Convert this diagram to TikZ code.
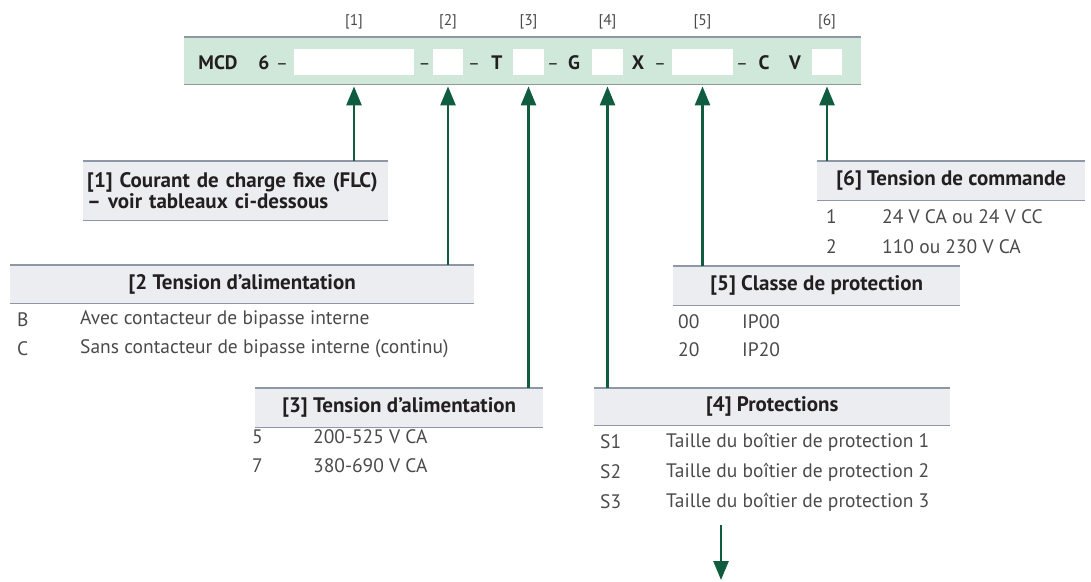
\documentclass[tikz,border=0pt]{standalone}
\usepackage{fontspec}
\setmainfont{PT Sans}
\usetikzlibrary{positioning, arrows.meta}
\definecolor{barfill}{HTML}{CFE8DA}
\definecolor{hdrfill}{HTML}{ECEDF0}
\definecolor{rulegray}{HTML}{8D97A5}
\definecolor{arrgreen}{HTML}{0F5C3E}
\definecolor{txtgray}{HTML}{4A4A4A}
\definecolor{txtdark}{HTML}{231F20}

\tikzset{
  slot/.style={fill=white, minimum height=26pt, inner sep=0pt},
  code/.style={font=\fontsize{19.5}{22}\selectfont\bfseries, text=txtdark, inner sep=0pt, anchor=base},
  sepdash/.style={font=\fontsize{18}{22}\selectfont, text=txtdark, inner sep=0pt, anchor=base},
  idx/.style={font=\fontsize{15.5}{17}\selectfont, text=txtgray, inner sep=0pt},
  hdr/.style={fill=hdrfill, inner sep=0pt, font=\fontsize{21}{21}\selectfont\bfseries, text=txtdark, anchor=north west},
  row/.style={font=\fontsize{19.5}{21}\selectfont, text=txtgray, inner sep=0pt, anchor=west},
  arr/.style={draw=arrgreen, line width=2.6pt, -{Triangle[width=15pt,length=19pt]}},
  rule/.style={draw=rulegray, line width=1.5pt},
}

\begin{document}
\begin{tikzpicture}[x=1pt, y=-1pt]
\useasboundingbox (0,0) rectangle (1091,581);

% code bar
\node[fill=barfill, minimum width=677pt, minimum height=47pt, inner sep=0pt, anchor=north west] (bar) at (184,37) {};
\draw[rule] (bar.north west) -- (bar.north east);
\draw[rule] (bar.south west) -- (bar.south east);

\node[code] (mcd) at (218,69) {MCD};
\node[code] (six) at (264,69) {6};
\node[code] (ct) at (497,69) {T};
\node[code] (cg) at (574,69) {G};
\node[code] (cx) at (638,69) {X};
\node[code] (cc) at (764,69) {C};
\node[code] (cv) at (795,69) {V};
\foreach \n/\x in {1/282, 2/424.5, 3/474, 4/553, 5/660, 6/742}
  \node[sepdash] (d\n) at (\x,69) {–};

% slots and their numbers
\foreach \n/\x/\w in {1/354/120, 2/448/30, 3/528.5/31, 4/607.5/31, 5/702.5/61, 6/827/30} {
  \node[slot, minimum width=\w pt] (s\n) at (\x,62) {};
  \node[idx] (i\n) at (\x,22) {[\n]};
}

% header boxes
\node[hdr, minimum width=305pt, minimum height=59pt, text width=297pt, align=left, inner xsep=4pt] (h1) at (83,161)
  {[1] Courant de charge fixe (FLC)\\– voir tableaux ci-dessous};
\node[hdr, minimum width=464pt, minimum height=38pt] (h2) at (10,265) {[2 Tension d’alimentation};
\node[hdr, minimum width=288pt, minimum height=39pt] (h3) at (255,388) {[3] Tension d’alimentation};
\node[hdr, minimum width=356pt, minimum height=37pt] (h4) at (594,388) {[4] Protections};
\node[hdr, minimum width=287pt, minimum height=39pt] (h5) at (673,266) {[5] Classe de protection};
\node[hdr, minimum width=268pt, minimum height=39pt] (h6) at (817,161) {[6] Tension de commande};
\foreach \n in {1,...,6} {
  \draw[rule] (h\n.north west) -- (h\n.north east);
  \draw[rule] (h\n.south west) -- (h\n.south east);
}

% rows
\node[row] (r2a) at (17,320) {B};
\node[row] (t2a) at (80,320) {Avec contacteur de bipasse interne};
\node[row] (r2b) at (17,349) {C};
\node[row] (t2b) at (80,349) {Sans contacteur de bipasse interne (continu)};

\node[row] (r3a) at (252,437) {5};
\node[row] (t3a) at (313,437) {200-525 V CA};
\node[row] (r3b) at (252,466) {7};
\node[row] (t3b) at (313,466) {380-690 V CA};

\node[row] (r4a) at (600,442) {S1};
\node[row] (t4a) at (666,442) {Taille du boîtier de protection 1};
\node[row] (r4b) at (600,472) {S2};
\node[row] (t4b) at (666,472) {Taille du boîtier de protection 2};
\node[row] (r4c) at (600,502) {S3};
\node[row] (t4c) at (666,502) {Taille du boîtier de protection 3};

\node[row] (r5a) at (678,322) {00};
\node[row] (t5a) at (742,322) {IP00};
\node[row] (r5b) at (678,350) {20};
\node[row] (t5b) at (742,350) {IP20};

\node[row] (r6a) at (826,217) {1};
\node[row] (t6a) at (882,217) {24 V CA ou 24 V CC};
\node[row] (r6b) at (826,247) {2};
\node[row] (t6b) at (882,247) {110 ou 230 V CA};

% arrows
\foreach \n in {1,...,6}
  \draw[arr] (s\n |- h\n.north) -- ([yshift=-2pt]s\n |- bar.south);

\coordinate (dn1) at (721,525);
\coordinate (dn2) at (721,580);
\draw[arr] (dn1) -- (dn2);

\end{tikzpicture}
\end{document}
